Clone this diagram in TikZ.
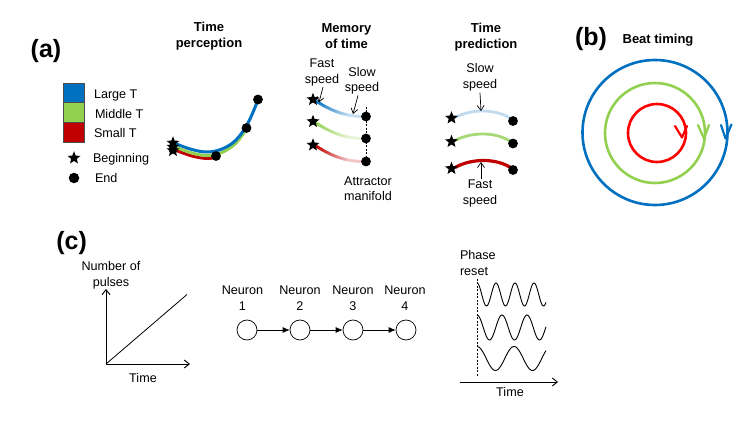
\documentclass[tikz,border=0pt]{standalone}
\usepackage{fontspec}
\setmainfont{Liberation Sans}
\usetikzlibrary{arrows.meta,shapes.geometric}
\definecolor{cblue}{HTML}{0070C0}
\definecolor{cgreen}{HTML}{92D050}
\definecolor{cred}{HTML}{C00000}
\definecolor{bred}{HTML}{FF0000}
\definecolor{lblue}{HTML}{C0DAF0}
\definecolor{pgreen}{HTML}{A6D878}
\newcommand\gradbez[9]{%
  \foreach \i in {0,...,29}{%
    \pgfmathsetmacro\ta{\i/30}%
    \pgfmathsetmacro\tb{min((\i+1.4)/30,1)}%
    \pgfmathtruncatemacro\pct{100-78*min(\i/21,1)}%
    \draw[line width=2.8pt, color=#1!\pct!white] plot[domain=\ta:\tb, samples=4, variable=\t]
      ({(1-\t)*(1-\t)*(1-\t)*#2+3*(1-\t)*(1-\t)*\t*#4+3*(1-\t)*\t*\t*#6+\t*\t*\t*#8},
       {(1-\t)*(1-\t)*(1-\t)*#3+3*(1-\t)*(1-\t)*\t*#5+3*(1-\t)*\t*\t*#7+\t*\t*\t*#9});
  }}
\tikzset{
  lbl/.style={font=\fontsize{12.6}{15.6}\selectfont, inner sep=0pt, outer sep=0pt, align=center},
  ttl/.style={font=\bfseries\fontsize{13}{16}\selectfont, inner sep=0pt, align=center},
  pan/.style={font=\bfseries\fontsize{25}{25}\selectfont, inner sep=0pt},
  starn/.style={star, star points=5, star point ratio=2.3, fill=black, inner sep=0pt, minimum size=13.5pt},
  dotn/.style={circle, fill=black, inner sep=0pt, minimum size=9.8pt},
  neur/.style={circle, draw, line width=0.7pt, inner sep=0pt, minimum size=20pt},
  ptr/.style={line width=0.7pt, -{Straight Barb[length=5pt,width=7pt]}},
  axis/.style={line width=0.9pt, -{Straight Barb[length=5pt,width=8pt]}},
  narr/.style={line width=0.7pt, -{Latex[length=7pt,width=6pt]}},
  wave/.style={line width=0.9pt},
  ring/.style={line width=2.6pt},
  vee/.style={line width=2.2pt, line cap=round, line join=round},
}
\begin{document}
\begin{tikzpicture}[x=1pt,y=-1pt]
\useasboundingbox (0,0) rectangle (753,422);
\fill[white] (0,0) rectangle (753,422);

% ---------- panel (a) ----------
\node[pan] (pa) at (46,51.5) {(a)};
\node[ttl] (t1) at (209,36.3) {Time\\perception};
\node[ttl] (t2) at (346.5,35.8) {Memory\\of time};
\node[ttl] (t3) at (486,36.7) {Time\\prediction};

% legend
\filldraw[fill=cblue, draw=black!70, line width=0.6pt] (63,83) rectangle (84,102.5);
\filldraw[fill=cgreen, draw=black!70, line width=0.6pt] (63,102.5) rectangle (84,122);
\filldraw[fill=cred, draw=black!70, line width=0.6pt] (63,122) rectangle (84,142);
\node[lbl, anchor=base west] (lgL) at (94,98.5) {Large T};
\node[lbl, anchor=base west] (lgM) at (95,118.5) {Middle T};
\node[lbl, anchor=base west] (lgS) at (94,137.5) {Small T};
\node[starn] (lgst) at (74,158) {};
\node[lbl, anchor=base west] (lgB) at (93,162.5) {Beginning};
\node[dotn, minimum size=10.5pt] (lgdt) at (74,178) {};
\node[lbl, anchor=base west] (lgE) at (95,182.5) {End};

% time perception curves
\draw[cred, line width=3pt] plot[smooth, tension=0.6] coordinates {(175,150) (192,156) (207,158.5) (216,157)};
\draw[cgreen, line width=3pt] plot[smooth, tension=0.6] coordinates {(175,147) (192,153) (207,155.5) (222,152.5) (236,143) (247,128)};
\draw[cblue, line width=3pt] plot[smooth, tension=0.6] coordinates {(175,143.5) (192,149.5) (207,152) (222,149) (236,140) (248,123) (258,100)};
\node[starn] (ps1) at (173,143) {};
\node[starn] (ps2) at (173,147) {};
\node[starn] (ps3) at (173,150.5) {};
\node[dotn] (pd1) at (258,99.5) {};
\node[dotn] (pd2) at (246.5,128) {};
\node[dotn] (pd3) at (216,156) {};

% memory of time
\draw[line width=0.7pt, dash pattern=on 2pt off 1.5pt] (366,107) -- (366,166);
\gradbez{cblue}{316}{101}{330}{110}{345}{117}{366}{116.5}
\gradbez{cgreen}{316}{123}{330}{132}{345}{139}{366}{138.5}
\gradbez{cred}{316}{146}{330}{155}{345}{162}{366}{161.5}
\node[starn] (ms1) at (313,99.5) {};
\node[starn] (ms2) at (313,121.5) {};
\node[starn] (ms3) at (313,145) {};
\node[dotn] (md1) at (366,116.5) {};
\node[dotn] (md2) at (366,138.5) {};
\node[dotn] (md3) at (366,161.5) {};
\node[lbl] (mfast) at (322,72.6) {Fast\\speed};
\node[lbl] (mslow) at (362,80.8) {Slow\\speed};
\node[lbl] (matt) at (368,188.8) {Attractor\\manifold};
\coordinate (mfa) at (319,102.5);
\coordinate (msa) at (353,114);
\draw[ptr] (mfast.south) ++(1,1) -- (mfa);
\draw[ptr] (mslow.south) ++(-4,1) -- (msa);

% time prediction
\draw[lblue, line width=2.8pt] (455,117.5) .. controls (472,108.5) and (497,108.5) .. (512,119.5);
\draw[pgreen, line width=2.8pt] (455,140.5) .. controls (472,131.5) and (497,131.5) .. (512,142.5);
\draw[cred, line width=3.2pt] (455,167.5) .. controls (472,158) and (497,158) .. (512,168.5);
\node[starn] (qs1) at (451.5,118) {};
\node[starn] (qs2) at (451.5,141.5) {};
\node[starn] (qs3) at (451.5,168.5) {};
\node[dotn] (qd1) at (513,121) {};
\node[dotn] (qd2) at (513,143.5) {};
\node[dotn] (qd3) at (513,170) {};
\node[lbl] (qslow) at (480,77.5) {Slow\\speed};
\node[lbl] (qfast) at (480,193.7) {Fast\\speed};
\coordinate (qsa) at (481,111);
\coordinate (qfa) at (481,162);
\draw[ptr] (qslow.south) ++(0,1.5) -- (qsa);
\draw[ptr] (qfast.north) ++(1,-1.5) -- (qfa);

% ---------- panel (b) ----------
\node[pan] (pb) at (591,39.3) {(b)};
\node[ttl] (bt) at (658,40) {Beat timing};
\draw[ring, cblue] (655,132.5) circle[radius=72.5pt];
\draw[ring, cgreen] (655,133) circle[radius=50pt];
\draw[ring, bred] (657,133) circle[radius=29pt];
\draw[vee, cblue] (721,125) -- (725.5,138.5) -- (731.5,124.5);
\draw[vee, cgreen] (698,125) -- (704,138.5) -- (709,125);
\draw[vee, bred] (675,126) -- (682,137.5) -- (687,126);

% ---------- panel (c) ----------
\node[pan] (pc) at (71.7,243) {(c)};
\coordinate (org) at (106,364);
\coordinate (ytop) at (106,289);
\coordinate (xend) at (190,364);
\coordinate (dend) at (187,294.5);
\draw[axis] (org) -- (ytop);
\draw[axis] (org) -- (xend);
\draw[line width=0.8pt] (org) -- (dend);
\node[lbl] (ylab) at (111,275) {Number of\\pulses};
\node[lbl] (xlab) at (143,378.3) {Time};

% neurons
\node[neur] (n1) at (247,330) {};
\node[neur] (n2) at (300,330) {};
\node[neur] (n3) at (353,330) {};
\node[neur] (n4) at (406,330) {};
\node[lbl] (l1) at (242.5,298.3) {Neuron\\1};
\node[lbl] (l2) at (300,298.3) {Neuron\\2};
\node[lbl] (l3) at (353,298.3) {Neuron\\3};
\node[lbl] (l4) at (405,298.3) {Neuron\\4};
\draw[narr] (n1) -- (n2);
\draw[narr] (n2) -- (n3);
\draw[narr] (n3) -- (n4);

% phase reset
\node[lbl, align=left, anchor=west] (ph) at (460,262.8) {Phase\\reset};
\draw[line width=0.7pt, dash pattern=on 2pt off 1.5pt] (477,279) -- (477,376);
\coordinate (ta0) at (460,382);
\coordinate (ta1) at (558,382);
\draw[axis] (ta0) -- (ta1);
\node[lbl] (tlab) at (510,391.7) {Time};
\draw[wave] plot[domain=477:546, samples=120] (\x,{294.5-11.5*cos(360/19*(\x-477))});
\draw[wave] plot[domain=477:546, samples=120] (\x,{327.5-12.5*cos(360/25*(\x-477))});
\draw[wave] plot[domain=477:546, samples=120] (\x,{358.5-12*cos(360/37*(\x-477))});
\end{tikzpicture}
\end{document}
